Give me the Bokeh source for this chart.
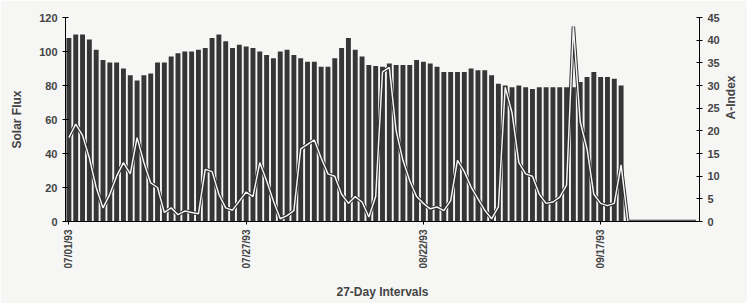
import math
from bokeh.plotting import figure
from bokeh.models import Range1d, LinearAxis, FixedTicker
from bokeh.embed import file_html
from bokeh.resources import INLINE

# ---- data ----
n_days = 93
tick_days = [0, 26, 52, 78]
tick_labels = ["07/01/93", "07/27/93", "08/22/93", "09/17/93"]

solar_flux = [108, 110, 110, 107, 101, 95, 93.5, 93.5, 90, 86,
              83, 86, 87, 93.5, 93.5, 97, 99, 100, 100, 101,
              102, 108, 110, 106, 102, 104, 103, 102, 100, 98,
              96, 100, 101, 98, 96, 94, 94, 91, 91, 96,
              102, 108, 101, 97, 92, 91.5, 91, 93, 92, 92,
              92, 95, 94, 93, 91, 88, 88, 88, 88, 90,
              89, 89, 86, 81, 80, 79, 80, 79, 78, 79,
              79, 79, 79, 79, 79, 82, 85, 88, 85, 85,
              84, 80]

a_index = [18.5, 21.5, 19, 14, 7.5, 3, 6, 10, 13, 10.5,
           18.5, 13, 8.5, 7.5, 2, 3, 1.5, 2.3, 2, 1.7,
           11.5, 11, 6, 3, 2.5, 4.5, 6.5, 5.5, 13, 9,
           4.5, 0.6, 1.3, 2.4, 16, 17, 18, 14, 10.5, 10,
           6, 4, 5.5, 4.3, 1, 5.5, 33, 34, 20, 13.5,
           9, 5.5, 4, 2.8, 3.2, 2.4, 4.6, 13.5, 11, 7.6,
           5, 2.5, 0.6, 3.2, 29.6, 24, 13, 10.5, 10, 6,
           4, 4.3, 5.4, 8, 43, 22, 16, 6, 4, 3.5,
           4, 12.5, 0, 0, 0, 0, 0, 0, 0, 0,
           0, 0, 0]

flux_ticks = [0, 20, 40, 60, 80, 100, 120]
a_ticks = [0, 5, 10, 15, 20, 25, 30, 35, 40, 45]

FONT = "Liberation Sans"
BG = "#f6f6f5"

p = figure(width=747, height=303, output_backend="svg", toolbar_location=None,
           x_range=Range1d(-0.5, n_days - 0.5), y_range=Range1d(0, 120),
           min_border_left=65, min_border_right=47, min_border_top=17,
           min_border_bottom=82, background_fill_color=BG, border_fill_color=BG,
           outline_line_color=None)
p.extra_y_ranges = {"a": Range1d(0, 45)}
p.xgrid.visible = False
p.ygrid.visible = False

days_flux = list(range(len(solar_flux)))
days_a = list(range(len(a_index)))

p.vbar(x=days_flux, top=solar_flux, width=0.72, bottom=0,
       fill_color="#363636", line_color=None)

p.line(x=days_a, y=a_index, y_range_name="a", line_color="#2a2a2a", line_width=3.4)
p.line(x=days_a, y=a_index, y_range_name="a", line_color="#f4f4f4", line_width=1.5)

# left axis
ya = p.yaxis[0]
ya.ticker = FixedTicker(ticks=flux_ticks)
ya.axis_label = "Solar Flux"
ya.axis_label_text_font = FONT
ya.axis_label_text_font_style = "bold"
ya.axis_label_text_font_size = "12px"
ya.axis_label_standoff = 12
ya.major_label_text_font = FONT
ya.major_label_text_font_style = "bold"
ya.major_label_text_font_size = "11px"
ya.major_tick_in = 3
ya.major_tick_out = 3
ya.minor_tick_line_color = None
ya.major_label_standoff = 5
ya.axis_line_color = "black"

# right axis
ra = LinearAxis(y_range_name="a", ticker=FixedTicker(ticks=a_ticks))
ra.major_label_text_font = FONT
ra.major_label_text_font_style = "bold"
ra.major_label_text_font_size = "11px"
ra.major_tick_in = 3
ra.major_tick_out = 3
ra.minor_tick_line_color = None
ra.major_label_standoff = 5
ra.axis_line_color = "black"
ra.axis_label = "A-Index"
ra.axis_label_text_font = FONT
ra.axis_label_text_font_style = "bold"
ra.axis_label_text_font_size = "12px"
ra.axis_label_standoff = 8
try:
    ra.axis_label_orientation = math.pi / 2
except Exception:
    pass
p.add_layout(ra, "right")

# bottom axis
xa = p.xaxis[0]
xa.ticker = FixedTicker(ticks=tick_days)
xa.major_label_overrides = {d: s for d, s in zip(tick_days, tick_labels)}
xa.major_label_orientation = math.pi / 2
xa.major_label_text_font = FONT
xa.major_label_text_font_style = "bold"
xa.major_label_text_font_size = "10px"
xa.major_tick_in = 0
xa.major_tick_out = 3
xa.minor_tick_line_color = None
xa.major_label_standoff = 5
xa.axis_label = "27-Day Intervals"
xa.axis_label_text_font = FONT
xa.axis_label_text_font_style = "bold"
xa.axis_label_text_font_size = "12px"
xa.axis_label_standoff = 14
xa.axis_line_color = "black"

open("out.html", "w").write(file_html(p, INLINE))
